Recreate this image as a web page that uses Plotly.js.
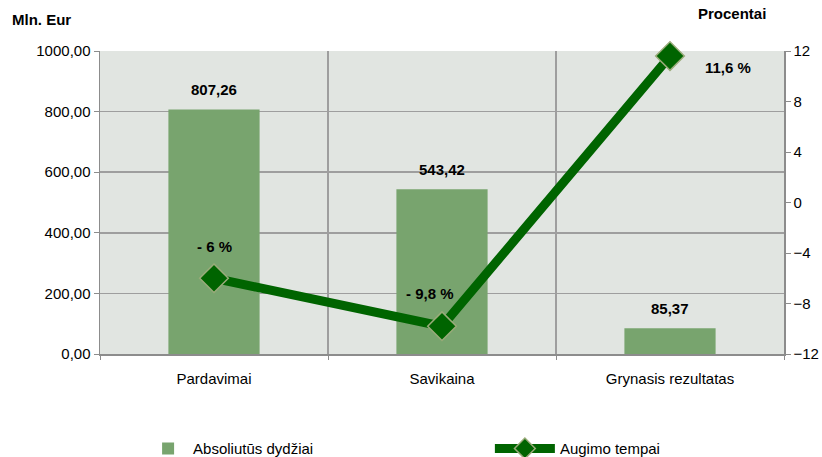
<!DOCTYPE html>
<html><head><meta charset="utf-8">
<script src="https://cdn.plot.ly/plotly-3.0.1.min.js"></script>
<style>body{margin:0;background:#fff}#c{width:822px;height:457px}</style>
</head><body><div id="c"></div>
<script>
const categories = ["Pardavimai", "Savikaina", "Grynasis rezultatas"];
const absValues = [807.26, 543.42, 85.37];
const absLabels = ["807,26", "543,42", "85,37"];
const growthValues = [-6, -9.8, 11.6];
const growthLabels = ["- 6 %", "- 9,8 %", "11,6 %"];
const leftTicks = [0, 200, 400, 600, 800, 1000];
const rightTicks = [-12, -8, -4, 0, 4, 8, 12];

const FONT = "'Liberation Sans Narrow', 'Arial Narrow', 'Liberation Sans', Arial, sans-serif";
const catIdx = categories.map((c, i) => i);

const traces = [
  {
    type: "bar", name: "Absoliutūs dydžiai", legend: "legend",
    x: catIdx, y: absValues, width: 0.4,
    marker: {color: "#78a46e"},
    xaxis: "x", yaxis: "y"
  },
  {
    type: "scatter", mode: "lines+markers", name: "Augimo tempai", legend: "legend2",
    x: catIdx, y: growthValues,
    line: {color: "#006400", width: 9},
    marker: {symbol: "diamond", size: 22, color: "#006400", line: {color: "#9aab7a", width: 1.5}},
    xaxis: "x", yaxis: "y2", cliponaxis: false
  }
];

const annotations = [];
absValues.forEach((v, i) => annotations.push({
  x: catIdx[i], y: v, xref: "x", yref: "y", text: "<b>" + absLabels[i] + "</b>", showarrow: false,
  yanchor: "middle", yshift: 20,
  font: {family: FONT, size: 15, color: "#000"}
}));
const shifts = [[0, 32], [-12, 33], [58, -11]];
growthValues.forEach((v, i) => annotations.push({
  x: catIdx[i], y: v, xref: "x", yref: "y2", text: "<b>" + growthLabels[i] + "</b>", showarrow: false,
  xshift: shifts[i][0], yshift: shifts[i][1],
  font: {family: FONT, size: 15, color: "#000"}
}));
annotations.push({xref: "paper", yref: "paper", x: -0.132, y: 1.069, xanchor: "left", yanchor: "bottom",
  text: "<b>Mln. Eur</b>", showarrow: false, font: {family: FONT, size: 15, color: "#000"}});
annotations.push({xref: "paper", yref: "paper", x: 0.976, y: 1.089, xanchor: "right", yanchor: "bottom",
  text: "<b>Procentai</b>", showarrow: false, font: {family: FONT, size: 15, color: "#000"}});

const legendFont = {family: FONT, size: 15, color: "#000"};
const layout = {
  width: 822, height: 457,
  margin: {l: 100, r: 38, t: 51, b: 103, autoexpand: false},
  paper_bgcolor: "#fff", plot_bgcolor: "#e1e5e1",
  separators: ",.",
  font: {family: FONT, size: 15, color: "#000"},
  showlegend: true,
  legend: {orientation: "h", x: 0.063, y: -0.258, xanchor: "left", yanchor: "top",
    font: legendFont, itemwidth: 40, bgcolor: "rgba(0,0,0,0)"},
  legend2: {orientation: "h", x: 0.57, y: -0.258, xanchor: "left", yanchor: "top",
    font: legendFont, itemwidth: 60, bgcolor: "rgba(0,0,0,0)"},
  xaxis: {
    range: [-0.5, 2.5], tickvals: catIdx, ticktext: categories, showgrid: false,
    ticks: "", showline: true, linecolor: "#8c8c8c", linewidth: 1.5, zeroline: false,
    tickfont: {family: FONT, size: 15}, ticklabelstandoff: 10
  },
  xaxis2: {
    overlaying: "x", range: [-0.5, 2.5], tick0: -0.5, dtick: 1, showticklabels: false,
    showgrid: true, gridcolor: "#9e9e9e", gridwidth: 1.5, ticks: "outside", ticklen: 5,
    tickcolor: "#8c8c8c", side: "bottom", zeroline: false, anchor: "y"
  },
  yaxis: {
    range: [0, 1000], tickvals: leftTicks, tickformat: ".2f", showgrid: true,
    gridcolor: "#9e9e9e", gridwidth: 1.5, showline: true, linecolor: "#8c8c8c", linewidth: 1.5,
    ticks: "outside", ticklen: 5, tickcolor: "#8c8c8c", zeroline: false,
    tickfont: {family: FONT, size: 15}
  },
  yaxis2: {
    overlaying: "y", side: "right", range: [-12, 12], tickvals: rightTicks, showgrid: false,
    showline: true, linecolor: "#8c8c8c", linewidth: 1.5, ticks: "outside", ticklen: 5,
    tickcolor: "#8c8c8c", zeroline: false, tickfont: {family: FONT, size: 15}
  },
  annotations: annotations
};
// invisible helper trace on xaxis2 so the overlay axis (category boundary gridlines) renders
traces.push({type: "scatter", x: [0], y: [0], xaxis: "x2", yaxis: "y", mode: "markers",
  marker: {opacity: 0}, showlegend: false, hoverinfo: "skip"});

Plotly.newPlot("c", traces, layout, {displayModeBar: false, staticPlot: true});
</script></body></html>
